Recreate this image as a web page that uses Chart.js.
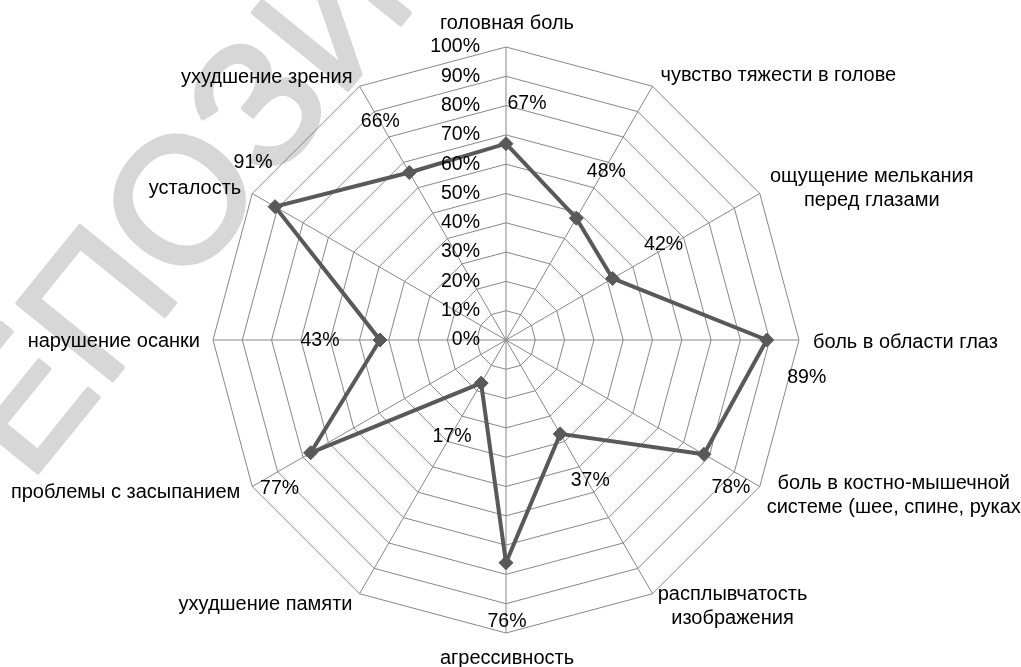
<!DOCTYPE html>
<html>
<head>
<meta charset="utf-8">
<script src="https://cdn.jsdelivr.net/npm/chart.js@4"></script>
<style>
html, body { margin: 0; padding: 0; background: #fff; }
#wrap { width: 1021px; height: 667px; position: relative; }
</style>
</head>
<body>
<div id="wrap"><canvas id="radar"></canvas></div>
<script>
// data
const categories = [
    ['головная боль'],
    ['чувство тяжести в голове'],
    ['ощущение мелькания', 'перед глазами'],
    ['боль в области глаз'],
    ['боль в костно-мышечной', 'системе (шее, спине, руках'],
    ['расплывчатость', 'изображения'],
    ['агрессивность'],
    ['ухудшение памяти'],
    ['проблемы с засыпанием'],
    ['нарушение осанки'],
    ['усталость'],
    ['ухудшение зрения']
];
const values = [67, 48, 42, 89, 78, 37, 76, 17, 77, 43, 91, 66];
const tickValues = [0, 10, 20, 30, 40, 50, 60, 70, 80, 90, 100];
const tickLabels = ['0%', '10%', '20%', '30%', '40%', '50%', '60%', '70%', '80%', '90%', '100%'];
const watermarkText = 'РЕПОЗИТОРИЙ';

// label placement (pixels, relative to vertex / point)
const catAlign = ['center', 'left', 'center', 'left', 'center', 'center', 'center', 'right', 'right', 'right', 'right', 'right'];
const catShift = [[1, -24], [8, -11], [112, -17], [14, 2], [134, -3], [80, 1], [1, 25], [-7, 11], [-12, 6], [-13, 1], [-11, -5], [-7, -9]];
const valShift = [[21, -40], [30, -47], [51, -34], [40, 38], [27, 33], [30, 47], [1, 59], [-29, 53], [-31, 36], [-60, 1], [-22, -44], [-29, -51]];

const CAT_FONT = '20px "Liberation Sans", Arial, sans-serif';
const NUM_FONT = '19.5px "Liberation Sans", Arial, sans-serif';

const overlay = {
    id: 'overlay',
    beforeDraw(chart) {
        // faint diagonal watermark behind the chart
        const ctx = chart.ctx;
        ctx.save();
        ctx.translate(-46, 576);
        ctx.rotate(-51 * Math.PI / 180);
        ctx.font = '178px "Liberation Sans", Arial, sans-serif';
        ctx.fillStyle = '#d7d7d7';
        ctx.strokeStyle = '#d7d7d7';
        ctx.lineWidth = 4;
        ctx.lineJoin = 'round';
        ctx.textAlign = 'left';
        ctx.textBaseline = 'alphabetic';
        ctx.fillText(watermarkText, 0, 0);
        ctx.strokeText(watermarkText, 0, 0);
        ctx.restore();
    },
    afterDatasetsDraw(chart) {
        const ctx = chart.ctx;
        const scale = chart.scales.r;
        ctx.save();
        ctx.fillStyle = '#000';
        ctx.textBaseline = 'middle';

        // radial tick labels left of the vertical axis
        ctx.font = NUM_FONT;
        ctx.textAlign = 'right';
        tickValues.forEach((v, i) => {
            const d = scale.getDistanceFromCenterForValue(v);
            ctx.fillText(tickLabels[i], scale.xCenter - 26, scale.yCenter - d);
        });

        // value labels
        ctx.textAlign = 'center';
        const pts = chart.getDatasetMeta(0).data;
        pts.forEach((pt, i) => {
            ctx.fillText(values[i] + '%', pt.x + valShift[i][0], pt.y + valShift[i][1]);
        });

        // category labels
        ctx.font = CAT_FONT;
        categories.forEach((lines, i) => {
            const p = scale.getPointPosition(i, scale.drawingArea);
            ctx.textAlign = catAlign[i];
            lines.forEach((line, k) => {
                ctx.fillText(line, p.x + catShift[i][0], p.y + catShift[i][1] + k * 24);
            });
        });
        ctx.restore();
    }
};

const ctx = document.getElementById('radar').getContext('2d');
new Chart(ctx, {
    type: 'radar',
    data: {
        labels: categories,
        datasets: [{
            data: values,
            borderColor: '#595959',
            borderWidth: 4,
            backgroundColor: 'rgba(0,0,0,0)',
            fill: false,
            pointStyle: 'rectRot',
            pointRadius: 7,
            pointBackgroundColor: '#595959',
            pointBorderColor: '#595959',
            pointBorderWidth: 1
        }]
    },
    options: {
        responsive: true,
        maintainAspectRatio: false,
        animation: false,
        events: [],
        layout: { padding: { left: 213, right: 222, top: 47, bottom: 34 } },
        plugins: { legend: { display: false }, tooltip: { enabled: false } },
        scales: {
            r: {
                min: 0,
                max: 100,
                ticks: { stepSize: 10, display: false },
                grid: { color: '#878787', lineWidth: 1 },
                angleLines: { color: '#878787', lineWidth: 1 },
                pointLabels: { display: false }
            }
        }
    },
    plugins: [overlay]
});
</script>
</body>
</html>
